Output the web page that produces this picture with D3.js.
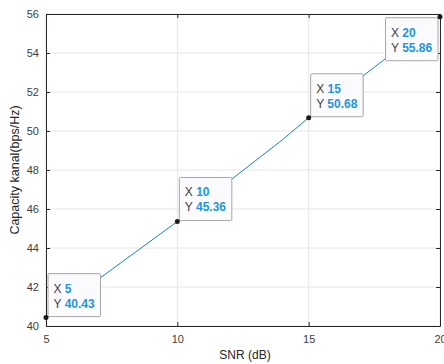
<!DOCTYPE html>
<html>
<head>
<meta charset="utf-8">
<script src="https://cdn.jsdelivr.net/npm/d3@7"></script>
<style>
  html, body { margin: 0; padding: 0; background: #fff; }
  svg { display: block; font-family: "Liberation Sans", Arial, sans-serif; }
</style>
</head>
<body>
<svg id="chart" width="444" height="364"></svg>
<script>
// Channel capacity versus SNR
const snr = [5, 10, 14, 15, 20];
const capacity = [40.43, 45.36, 49.55, 50.68, 55.86];

// Points that carry a data tip, and where the tip sits relative to its point
const tipSnr = [5, 10, 15, 20];
const tipCap = [40.43, 45.36, 50.68, 55.86];
const tipSide = ["right", "right", "right", "left"];

const xTicks = [5, 10, 15, 20];
const yTicks = [40, 42, 44, 46, 48, 50, 52, 54, 56];

const svg = d3.select("#chart");
const margin = { left: 46, right: 4, top: 14, bottom: 38 };
const W = 444, H = 364;

const x = d3.scaleLinear().domain([5, 20]).range([margin.left, W - margin.right]);
const y = d3.scaleLinear().domain([40, 56]).range([H - margin.bottom, margin.top]);

const axisColor = "#262626";
const labelColor = "#404040";
const gridColor = "#e6e6e6";

// grid
const g = svg.append("g");
g.selectAll("line.gx").data(xTicks).join("line")
  .attr("x1", d => x(d)).attr("x2", d => x(d))
  .attr("y1", y(40)).attr("y2", y(56))
  .attr("stroke", gridColor).attr("stroke-width", 1);
g.selectAll("line.gy").data(yTicks).join("line")
  .attr("x1", x(5)).attr("x2", x(20))
  .attr("y1", d => y(d)).attr("y2", d => y(d))
  .attr("stroke", gridColor).attr("stroke-width", 1);

// axes with inward ticks
const xAxis = d3.axisBottom(x).tickValues(xTicks).tickSizeInner(-4).tickSizeOuter(0).tickPadding(9);
const yAxis = d3.axisLeft(y).tickValues(yTicks).tickSizeInner(-4).tickSizeOuter(0).tickPadding(7);
const xTop = d3.axisTop(x).tickValues(xTicks).tickSizeInner(-4).tickSizeOuter(0).tickFormat("");
const yRight = d3.axisRight(y).tickValues(yTicks).tickSizeInner(-4).tickSizeOuter(0).tickFormat("");

function styleAxis(sel) {
  sel.selectAll("path").attr("stroke", axisColor).attr("stroke-width", 1);
  sel.selectAll("line").attr("stroke", axisColor);
  sel.selectAll("text").attr("fill", labelColor).style("font-size", "11px")
    .style("font-family", "'Liberation Sans', Arial, sans-serif");
}
svg.append("g").attr("transform", `translate(0,${y(40)})`).call(xAxis).call(styleAxis);
svg.append("g").attr("transform", `translate(${x(5)},0)`).call(yAxis).call(styleAxis);
svg.append("g").attr("transform", `translate(0,${y(56)})`).call(xTop).call(styleAxis);
svg.append("g").attr("transform", `translate(${x(20)},0)`).call(yRight).call(styleAxis);

// axis titles
svg.append("text")
  .attr("x", (x(5) + x(20)) / 2 + 2).attr("y", 359)
  .attr("text-anchor", "middle").attr("fill", "#262626")
  .style("font-size", "12px").text("SNR (dB)");
svg.append("text")
  .attr("transform", `translate(19,${(y(40) + y(56)) / 2}) rotate(-90)`)
  .attr("text-anchor", "middle").attr("fill", "#262626")
  .style("font-size", "12.5px").text("Capacity kanal(bps/Hz)");

// the curve
const line = d3.line().x((d, i) => x(snr[i])).y(d => y(d));
svg.append("path").datum(capacity)
  .attr("d", line).attr("fill", "none")
  .attr("stroke", "#0072BD").attr("stroke-width", 0.9);

// data tips
const tips = svg.append("g");
tipSnr.forEach((s, i) => {
  const px = x(s), py = y(tipCap[i]);
  const grp = tips.append("g");
  const rect = grp.append("rect");
  const t = grp.append("text").style("font-size", "12px");
  const l1 = t.append("tspan").attr("x", 0).attr("dy", 0);
  l1.append("tspan").attr("fill", "#404040").text("X ");
  l1.append("tspan").attr("fill", "#1e95dc").attr("font-weight", "bold").text(String(s));
  const l2 = t.append("tspan").attr("x", 0).attr("dy", 15);
  l2.append("tspan").attr("fill", "#404040").text("Y ");
  l2.append("tspan").attr("fill", "#1e95dc").attr("font-weight", "bold").text(tipCap[i].toFixed(2));
  const bb = t.node().getBBox();
  const bw = bb.width + 11, bh = 43;
  let bx, by;
  if (tipSide[i] === "right") { bx = px + 2; by = py - bh - 1; }
  else { bx = px - bw - 2; by = py + 1; }
  rect.attr("x", bx).attr("y", by).attr("width", bw).attr("height", bh)
    .attr("fill", "#fbfbfd").attr("stroke", "#a6a6a6").attr("stroke-width", 1).attr("rx", 1);
  t.attr("transform", `translate(${bx + 5.5},${by + 19})`);
  grp.append("circle").attr("cx", px).attr("cy", py).attr("r", 2.5).attr("fill", "#1a1a1a");
});
</script>
</body>
</html>
